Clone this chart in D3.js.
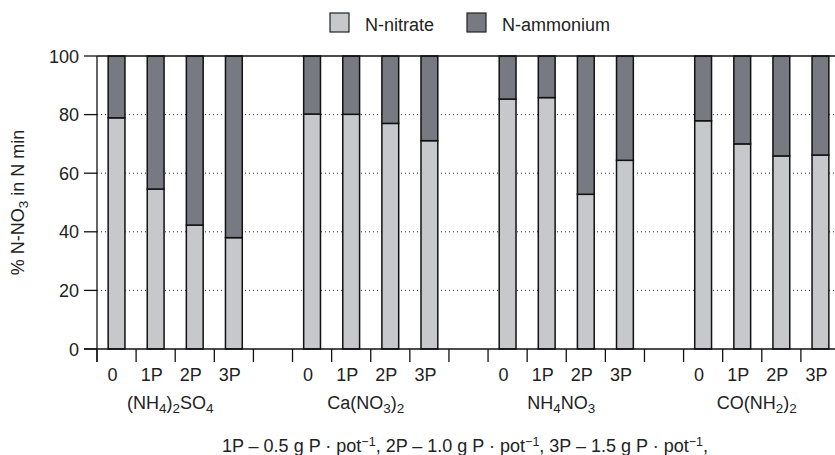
<!DOCTYPE html>
<html>
<head>
<meta charset="utf-8">
<script src="https://cdn.jsdelivr.net/npm/d3@7"></script>
<style>
  body { margin: 0; background: #fff; }
  svg { display: block; font-family: "Liberation Sans", Arial, sans-serif; }
</style>
</head>
<body>
<svg id="chart" width="835" height="455"></svg>
<script>
'use strict';

// fertilizer names, "_n" marks a subscript digit
var fertilizers = ['(NH_4)_2SO_4', 'Ca(NO_3)_2', 'NH_4NO_3', 'CO(NH_2)_2'];
var doses = ['0', '1P', '2P', '3P'];
var yTicks = [0, 20, 40, 60, 80, 100];

// % of N min, one row per fertilizer, one value per P dose
var nitrate = [
    [78.9, 54.6, 42.3, 38.0],
    [80.2, 80.1, 77.0, 71.1],
    [85.3, 85.8, 52.8, 64.4],
    [77.9, 70.0, 65.9, 66.2]
];
var ammonium = [
    [21.1, 45.4, 57.7, 62.0],
    [19.8, 19.9, 23.0, 28.9],
    [14.7, 14.2, 47.2, 35.6],
    [22.1, 30.0, 34.1, 33.8]
];

var seriesNames = ['N-nitrate', 'N-ammonium'];
var colors = ['#c6c8cb', '#777a80'];

var svg = d3.select('#chart');
var margin = {left: 97, top: 56, bottom: 349, right: 840};

// slots: 4 bars per fertilizer and one empty slot between groups
var slots = [];
fertilizers.forEach(function(f, gi) {
    doses.forEach(function(d, di) { slots.push(gi + '-' + di); });
    if(gi < fertilizers.length - 1) slots.push('gap' + gi);
});

var x = d3.scaleBand()
    .domain(slots)
    .range([margin.left, margin.right])
    .paddingInner(0.57)
    .paddingOuter(0.285);

var y = d3.scaleLinear().domain([0, 100]).range([margin.bottom, margin.top]);

var step = x.step(),
    half = (step - x.bandwidth()) / 2;

// writes text with "_n" subscripts, shifting baseline back after each one
function addFormula(text, str, subSize) {
    var shift = 0;
    str.split(/_(\d)/).forEach(function(part, i) {
        if(!part) return;
        var ts = text.append('tspan');
        if(i % 2 === 1) {
            ts.attr('dy', 4 - shift).attr('font-size', subSize);
            shift = 4;
        } else {
            if(shift) ts.attr('dy', -shift);
            shift = 0;
        }
        ts.text(part);
    });
}

// dotted grid
svg.append('g')
    .selectAll('line')
    .data(yTicks.filter(function(v) { return v > 0 && v < 100; }))
    .enter().append('line')
        .attr('x1', margin.left).attr('x2', margin.right)
        .attr('y1', function(d) { return y(d); })
        .attr('y2', function(d) { return y(d); })
        .attr('stroke', '#333')
        .attr('stroke-width', 1)
        .attr('stroke-dasharray', '1,3');

// bars
var rows = [];
fertilizers.forEach(function(f, gi) {
    doses.forEach(function(d, di) {
        rows.push({key: gi + '-' + di, nitrate: nitrate[gi][di], ammonium: ammonium[gi][di]});
    });
});
var stacked = d3.stack().keys(['nitrate', 'ammonium'])(rows);

svg.append('g')
    .selectAll('g')
    .data(stacked)
    .enter().append('g')
        .attr('fill', function(d, i) { return colors[i]; })
    .selectAll('rect')
    .data(function(d) { return d; })
    .enter().append('rect')
        .attr('x', function(d) { return x(d.data.key); })
        .attr('width', x.bandwidth())
        .attr('y', function(d) { return y(d[1]); })
        .attr('height', function(d) { return y(d[0]) - y(d[1]); })
        .attr('stroke', '#111')
        .attr('stroke-width', 1.5);

// axes frame
var axes = svg.append('g').attr('stroke', '#111').attr('stroke-width', 1.3);
axes.append('line')
    .attr('x1', margin.left).attr('x2', margin.right)
    .attr('y1', margin.top).attr('y2', margin.top);
axes.append('line')
    .attr('x1', margin.left - 13).attr('x2', margin.right)
    .attr('y1', margin.bottom).attr('y2', margin.bottom);
axes.append('line')
    .attr('x1', margin.left).attr('x2', margin.left)
    .attr('y1', margin.top).attr('y2', margin.bottom + 13);

// y ticks
axes.selectAll('line.ytick')
    .data(yTicks)
    .enter().append('line')
        .attr('class', 'ytick')
        .attr('x1', margin.left - 13).attr('x2', margin.left)
        .attr('y1', function(d) { return y(d); })
        .attr('y2', function(d) { return y(d); });

svg.append('g')
    .selectAll('text')
    .data(yTicks)
    .enter().append('text')
        .attr('x', 79)
        .attr('y', function(d) { return y(d) + 6.5; })
        .attr('text-anchor', 'end')
        .attr('font-size', 18)
        .attr('fill', '#222')
        .text(function(d) { return d; });

// x ticks at slot boundaries
var bounds = slots.map(function(s) { return x(s) - half; });
bounds.push(x(slots[slots.length - 1]) + x.bandwidth() + half);
axes.selectAll('line.xtick')
    .data(bounds)
    .enter().append('line')
        .attr('class', 'xtick')
        .attr('x1', function(d) { return d; })
        .attr('x2', function(d) { return d; })
        .attr('y1', margin.bottom)
        .attr('y2', margin.bottom + 13);

// dose labels
svg.append('g')
    .selectAll('text')
    .data(rows)
    .enter().append('text')
        .attr('x', function(d) { return x(d.key) + x.bandwidth() / 2 - 4; })
        .attr('y', 381)
        .attr('text-anchor', 'middle')
        .attr('font-size', 18)
        .attr('fill', '#222')
        .text(function(d) { return doses[+d.key.split('-')[1]]; });

// fertilizer labels
fertilizers.forEach(function(f, gi) {
    var cx = (x(gi + '-0') + x(gi + '-3') + x.bandwidth()) / 2 - 5;
    var t = svg.append('text')
        .attr('x', cx)
        .attr('y', 409)
        .attr('text-anchor', 'middle')
        .attr('font-size', 18)
        .attr('fill', '#222');
    addFormula(t, f, 13.5);
});

// y axis title
var yt = svg.append('text')
    .attr('transform', 'translate(24,' + (margin.top + margin.bottom) / 2 + ') rotate(-90)')
    .attr('text-anchor', 'middle')
    .attr('font-size', 18)
    .attr('fill', '#222');
addFormula(yt, '% N-NO_3 in N min', 13.5);

// caption
var cap = svg.append('text')
    .attr('x', 465)
    .attr('y', 452)
    .attr('text-anchor', 'middle')
    .attr('font-size', 18)
    .attr('fill', '#222');
var capParts = ['1P \u2013 0.5 g P \u00b7 pot', ', 2P \u2013 1.0 g P \u00b7 pot', ', 3P \u2013 1.5 g P \u00b7 pot', ','];
capParts.forEach(function(part, i) {
    var ts = cap.append('tspan').text(part);
    if(i > 0) ts.attr('dy', 6);
    if(i < capParts.length - 1) {
        cap.append('tspan').attr('dy', -6).attr('font-size', 12.5).text('\u22121');
    }
});

// legend
var legend = svg.append('g');
var legendX = [330, 467];
seriesNames.forEach(function(name, i) {
    legend.append('rect')
        .attr('x', legendX[i]).attr('y', 13)
        .attr('width', 19).attr('height', 19)
        .attr('fill', colors[i])
        .attr('stroke', '#222')
        .attr('stroke-width', 1.2);
    legend.append('text')
        .attr('x', legendX[i] + 35).attr('y', 31)
        .attr('font-size', 18)
        .attr('fill', '#222')
        .text(name);
});
</script>
</body>
</html>
